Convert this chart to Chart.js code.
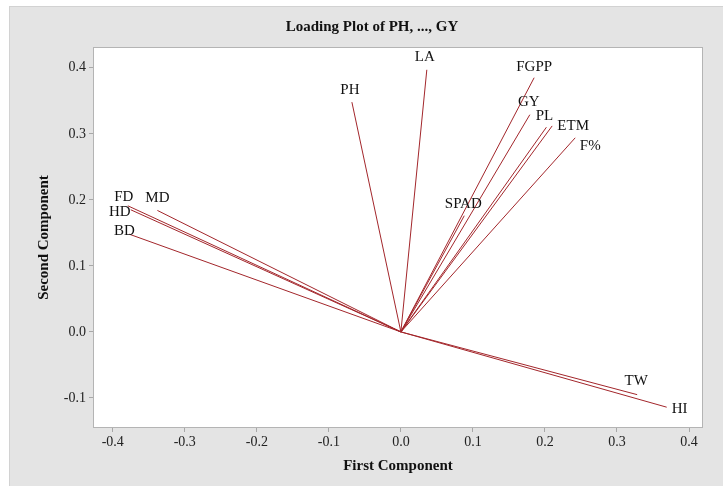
<!DOCTYPE html>
<html>
<head>
<meta charset="utf-8">
<script src="https://cdn.jsdelivr.net/npm/chart.js@4.4.1/dist/chart.umd.min.js"></script>
<style>
  html, body { margin: 0; padding: 0; background: #ffffff; }
  #wrap { width: 723px; height: 486px; }
</style>
</head>
<body>
<div id="wrap"><canvas id="c" width="723" height="486"></canvas></div>
<script>
// ---- data ----
const variables = ['PH', 'LA', 'FGPP', 'GY', 'PL', 'ETM', 'F%', 'SPAD', 'FD', 'HD', 'MD', 'BD', 'TW', 'HI'];
const firstComponent  = [-0.068, 0.036, 0.185, 0.179, 0.202, 0.210, 0.242, 0.088, -0.379, -0.375, -0.338, -0.377, 0.328, 0.369];
const secondComponent = [0.348, 0.397, 0.385, 0.329, 0.310, 0.312, 0.294, 0.176, 0.191, 0.185, 0.184, 0.148, -0.095, -0.114];
const xTickValues = [-0.4, -0.3, -0.2, -0.1, 0.0, 0.1, 0.2, 0.3, 0.4];
const yTickValues = [-0.1, 0.0, 0.1, 0.2, 0.3, 0.4];
const chartTitle = 'Loading Plot of PH, ..., GY';
const xTitle = 'First Component';
const yTitle = 'Second Component';

// ---- styling (label offsets in pixels from line end) ----
const labelOffsets = {
  'PH': [-2, -12], 'LA': [-2, -13], 'FGPP': [0, -11], 'GY': [-1, -13], 'PL': [-2, -11],
  'ETM': [21, 0], 'F%': [15, 8], 'SPAD': [-1, -12], 'FD': [-4, -9], 'HD': [-11, 2],
  'MD': [0, -12], 'BD': [-5, -3], 'TW': [-1, -14], 'HI': [13, 2]
};
const LINE_COLOR = '#a3262b';
const SERIF = '"Liberation Serif", "Times New Roman", "DejaVu Serif", serif';

const datasets = variables.map((name, i) => ({
  label: name,
  data: [{ x: 0, y: 0 }, { x: firstComponent[i], y: secondComponent[i] }],
  showLine: true,
  borderColor: LINE_COLOR,
  borderWidth: 1,
  pointRadius: 0,
  pointHoverRadius: 0,
  fill: false
}));

const framePlugin = {
  id: 'frame',
  beforeDraw(chart) {
    const ctx = chart.ctx;
    const a = chart.chartArea;
    ctx.save();
    ctx.fillStyle = '#ffffff';
    ctx.fillRect(0, 0, chart.width, chart.height);
    ctx.fillStyle = '#e4e4e4';
    ctx.fillRect(9, 6, chart.width - 9, chart.height - 6);
    ctx.strokeStyle = '#d2d2d2';
    ctx.lineWidth = 1;
    ctx.beginPath();
    ctx.moveTo(9, 6.5); ctx.lineTo(chart.width, 6.5);
    ctx.moveTo(9.5, 6); ctx.lineTo(9.5, chart.height);
    ctx.stroke();
    ctx.fillStyle = '#ffffff';
    ctx.fillRect(a.left, a.top, a.right - a.left, a.bottom - a.top);
    ctx.restore();
  },
  afterDraw(chart) {
    const ctx = chart.ctx;
    const a = chart.chartArea;
    const xs = chart.scales.x, ys = chart.scales.y;
    ctx.save();
    ctx.strokeStyle = '#b4b4b4';
    ctx.lineWidth = 1;
    ctx.strokeRect(Math.round(a.left) - 0.5, Math.round(a.top) - 0.5,
                   Math.round(a.right - a.left) + 1, Math.round(a.bottom - a.top) + 1);
    // title
    ctx.fillStyle = '#111111';
    ctx.font = 'bold 15px ' + SERIF;
    ctx.textAlign = 'center';
    ctx.textBaseline = 'middle';
    ctx.fillText(chartTitle, 372, 27);
    // variable labels
    ctx.font = '15px ' + SERIF;
    variables.forEach((name, i) => {
      const px = xs.getPixelForValue(firstComponent[i]);
      const py = ys.getPixelForValue(secondComponent[i]);
      const off = labelOffsets[name] || [0, -12];
      ctx.fillText(name, px + off[0], py + off[1]);
    });
    ctx.restore();
  }
};

const fmt = v => {
  const s = Number(v).toFixed(1);
  return s === '-0.0' ? '0.0' : s;
};

new Chart(document.getElementById('c'), {
  type: 'scatter',
  data: { datasets },
  plugins: [framePlugin],
  options: {
    responsive: false,
    animation: false,
    devicePixelRatio: 1,
    layout: { padding: { top: 48, right: 21, left: 0, bottom: 0 } },
    plugins: {
      legend: { display: false },
      title: { display: false },
      tooltip: { enabled: false }
    },
    scales: {
      x: {
        type: 'linear',
        min: -0.426,
        max: 0.418,
        afterBuildTicks: s => { s.ticks = xTickValues.map(v => ({ value: v })); },
        afterFit: s => { s.height = 59; },
        border: { display: false },
        grid: { drawOnChartArea: false, drawTicks: true, tickLength: 5, tickColor: '#a8a8a8' },
        ticks: { callback: fmt, color: '#222222', font: { family: SERIF, size: 14 }, padding: 2, maxRotation: 0 },
        title: { display: true, text: xTitle, color: '#111111', font: { family: SERIF, size: 15, weight: 'bold' }, padding: { top: 0, bottom: 11 } }
      },
      y: {
        type: 'linear',
        min: -0.144,
        max: 0.43,
        afterBuildTicks: s => { s.ticks = yTickValues.map(v => ({ value: v })); },
        afterFit: s => { s.width = 94; },
        border: { display: false },
        grid: { drawOnChartArea: false, drawTicks: true, tickLength: 5, tickColor: '#a8a8a8' },
        ticks: { callback: fmt, color: '#222222', font: { family: SERIF, size: 14 }, padding: 3 },
        title: { display: true, text: yTitle, color: '#111111', font: { family: SERIF, size: 15, weight: 'bold' }, padding: { top: 35, bottom: 0 } }
      }
    }
  }
});
</script>
</body>
</html>
